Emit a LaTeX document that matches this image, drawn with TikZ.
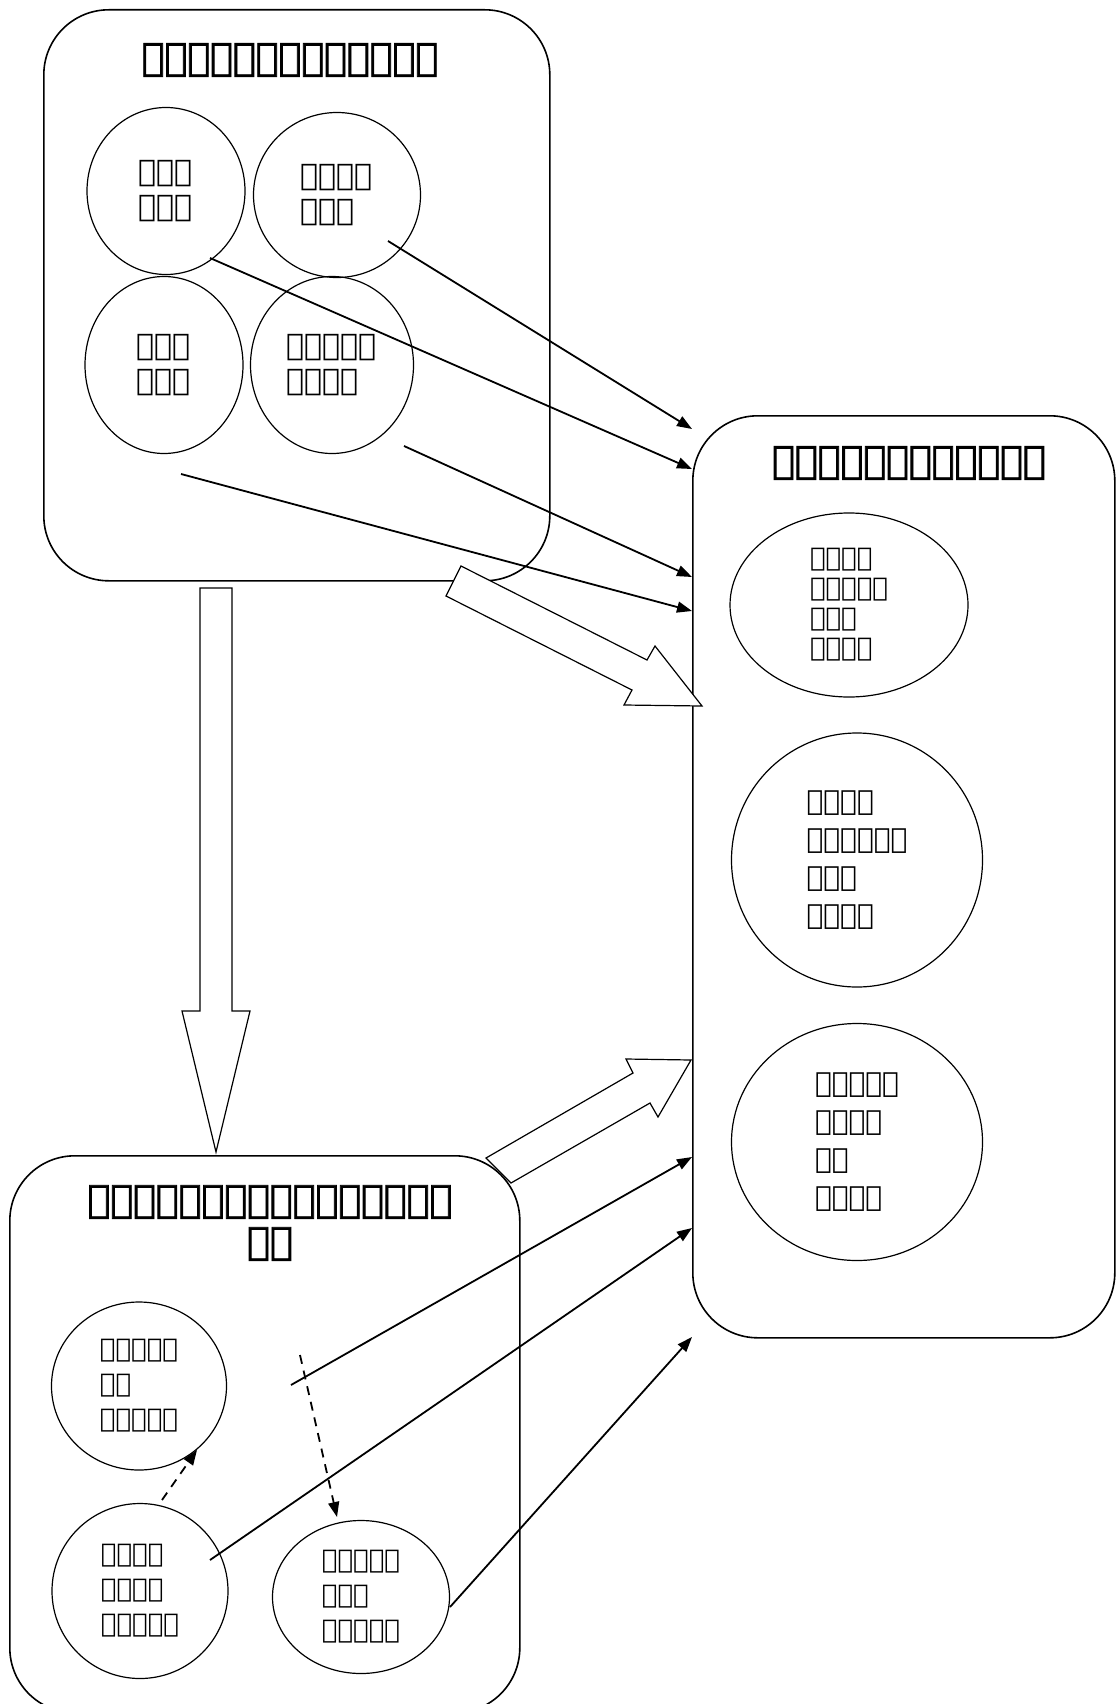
\documentclass[tikz,border=0pt]{standalone}
\usepackage{fontspec}
\newfontfamily\ethfont{DejaVu Sans}
\newfontfamily\ethhead[FakeBold=2]{DejaVu Sans}
\usetikzlibrary{arrows.meta,positioning,shapes.geometric,calc}
\tikzset{%
   grp/.style={
      draw,
      line width=1.6pt,
      rounded corners=65pt,
      inner sep=0pt,
      anchor=north west
   },
   hd/.style={
      align=center,
      font=\ethhead\fontsize{38}{42}\selectfont
   },
   idea/.style={
      draw, ellipse,
      line width=1.2pt,
      inner sep=0pt,
      align=left,
      font=\ethfont\fontsize{30}{35}\selectfont
   },
   small/.style={
      font=\ethfont\fontsize{26}{30}\selectfont
   },
   mid/.style={
      font=\ethfont\fontsize{28}{38}\selectfont
   },
   low/.style={
      font=\ethfont\fontsize{26}{35}\selectfont
   },
   lnk/.style={
      -{Triangle[length=15pt,width=11pt]},
      line width=1.8pt
   },
   dlnk/.style={
      lnk,
      dash pattern=on 9pt off 7pt
   },
   hollow/.style={
      draw,
      fill=white,
      line width=1.2pt,
      line join=miter
   },
}

\begin{document}
\begin{tikzpicture}[x=1pt, y=-1pt]
   \useasboundingbox (0,0) rectangle (1117,1704);
   \node[grp, minimum width=506, minimum height=571] (tbox) at (43,9) {};
   \node[grp, minimum width=422, minimum height=922] (rbox) at (692,415) {};
   \node[grp, minimum width=510, minimum height=557] (bbox) at (9,1155) {};

   \node[hd] (t0) at (290,60) {የንባብግለብቃትእምነት};
   \node[hd] (t1) at (909,463) {አንብቦየመረዳትችሎታ};
   \node[hd] (t2) at (270,1223) {ራስመርየመማርብልሃቶችአጠቃ\\ቀም};

   \node[idea, minimum width=158, minimum height=167] (c1) at (166,191) {የራስ\\ለውጥ};
   \node[idea, minimum width=167, minimum height=165] (c2) at (337,195) {ስሜታዊ\\ሁኔታ};
   \node[idea, minimum width=158, minimum height=177] (c3) at (164,365) {ምጋቤ\\ምላሽ};
   \node[idea, minimum width=163, minimum height=177] (c4) at (332,365) {ምልከታዊ\\ንጽጽር};

   \node[idea, small, minimum width=238, minimum height=184] (r1) at (849,605) {በግልጽ\\የቀረበን\\ሃሳብ\\መረዳት};
   \node[idea, mid, minimum width=251, minimum height=254] (r2) at (857,860) {በቀጥታ\\ያልቀረበን\\ሀሳብ\\መረዳት};
   \node[idea, mid, minimum width=251, minimum height=237] (r3) at (857,1142) {የቃላትን\\አውዳዊ\\ፍች\\መረዳት};

   \node[idea, low, minimum width=175, minimum height=168] (b1) at (139,1386) {የትግበራ\\ጊዜ\\ብልሃቶች};
   \node[idea, low, minimum width=176, minimum height=175] (b2) at (140,1591) {የቅድመ\\ትግበራ\\ብልሃቶች};
   \node[idea, low, minimum width=177, minimum height=153] (b3) at (361,1597) {የጽብረቃ\\ደረጃ\\ብልሃቶች};

   \coordinate (s1) at (388,241);
   \coordinate (s2) at (210,258);
   \coordinate (s3) at (404,446);
   \coordinate (s4) at (181,474);
   \coordinate (s5) at (291,1385);
   \coordinate (s6) at (210,1560);
   \coordinate (s7) at (450,1607);
   \coordinate (e1) at (692,429);
   \coordinate (e2) at (692,469);
   \coordinate (e3) at (692,577);
   \coordinate (e4) at (692,611);
   \coordinate (e5) at (692,1157);
   \coordinate (e6) at (692,1228);
   \coordinate (e7) at (692,1337);
   \draw[lnk] (s1) -- (e1);
   \draw[lnk] (s2) -- (e2);
   \draw[lnk] (s3) -- (e3);
   \draw[lnk] (s4) -- (e4);
   \draw[lnk] (s5) -- (e5);
   \draw[lnk] (s6) -- (e6);
   \draw[lnk] (s7) -- (e7);

   \coordinate (d1) at (162,1500);
   \coordinate (d2) at (197,1450);
   \coordinate (d3) at (300,1355);
   \coordinate (d4) at (337,1517);
   \draw[dlnk] (d1) -- (d2);
   \draw[dlnk] (d3) -- (d4);

   \draw[hollow] (461,566) -- (647,660) -- (655,646) -- (702,706) -- (624,705) -- (632,690) -- (446,596) -- cycle;
   \draw[hollow] (200,588) -- (232,588) -- (232,1011) -- (250,1011) -- (216,1152) -- (182,1011) -- (200,1011) -- cycle;
   \draw[hollow] (486,1158) -- (633,1073) -- (626,1059) -- (691,1060) -- (658,1117) -- (650,1103) -- (511,1183) -- cycle;
\end{tikzpicture}
\end{document}
